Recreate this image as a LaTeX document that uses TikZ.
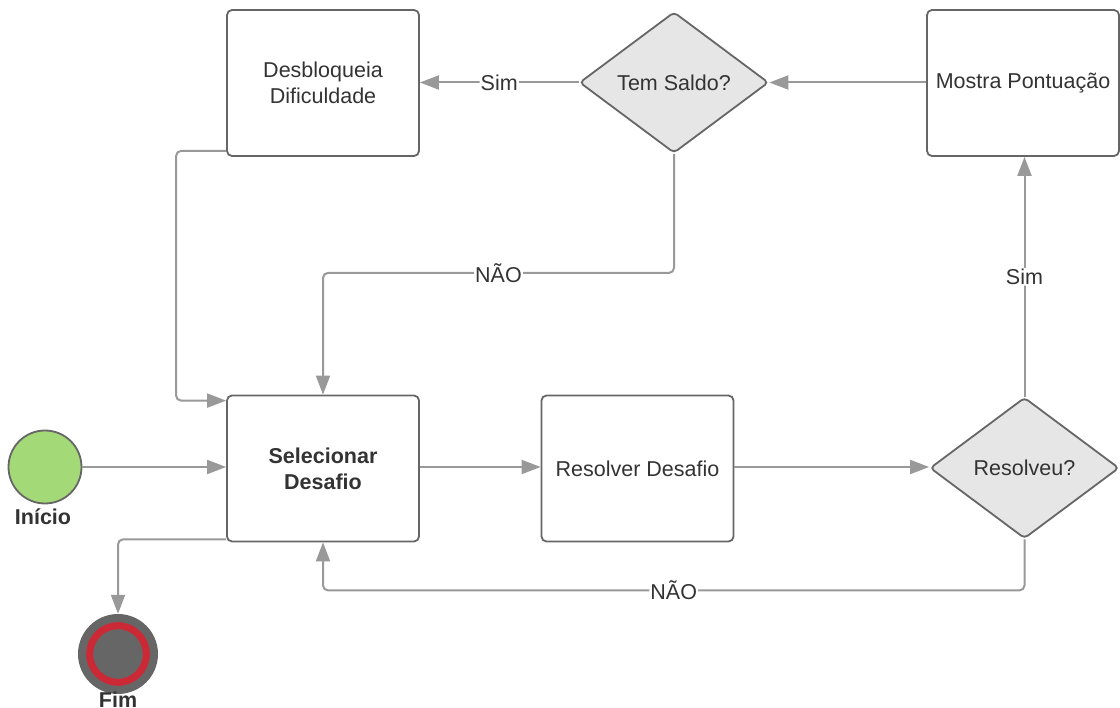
\documentclass[tikz,border=0pt]{standalone}
\usepackage{fontspec}
\setmainfont{Liberation Sans}
\usetikzlibrary{arrows.meta,shapes.geometric}
\definecolor{bordc}{HTML}{666666}
\definecolor{linec}{HTML}{999999}
\definecolor{txtc}{HTML}{333333}
\definecolor{diafill}{HTML}{E6E6E6}
\definecolor{startg}{HTML}{A3D977}
\definecolor{endred}{HTML}{CC2936}
\begin{document}
\begin{tikzpicture}[x=1pt,y=-1pt,
  every node/.style={font=\fontsize{21.5}{26}\selectfont, text=txtc},
  box/.style={draw=bordc, line width=1.8pt, rounded corners=5pt, fill=white,
    minimum width=192pt, minimum height=146pt, inner sep=0pt, align=center},
  dia/.style={diamond, draw=bordc, line width=1.8pt, rounded corners=4pt, fill=diafill,
    minimum width=189pt, minimum height=141pt, inner sep=0pt, aspect=1.34},
  conn/.style={draw=linec, line width=2pt, rounded corners=5pt,
    -{Triangle[length=19pt,width=14pt]}},
  lbl/.style={fill=white, inner sep=1pt},
  bold/.style={font=\fontsize{21.5}{26}\selectfont\bfseries}]
\useasboundingbox (0,0) rectangle (1120,708);
\fill[white] (0,0) rectangle (1120,708);
% nodes
\node[box] (desb) at (323,83) {Desbloqueia\\Dificuldade};
\node[dia] (tem) at (674,82.5) {Tem Saldo?};
\node[box] (mos) at (1023,83) {Mostra Pontuação};
\node[box, bold] (sel) at (323,468.5) {Selecionar\\Desafio};
\node[box] (resol) at (637.5,468.5) {Resolver Desafio};
\node[dia] (res) at (1024.5,468) {Resolveu?};
\node[circle, draw=bordc, line width=1.8pt, fill=startg, minimum size=73pt, inner sep=0pt] (ini) at (45,467) {};
\node[bold, inner sep=0pt] (inilbl) at (43,517) {Início};
\node[circle, fill=bordc, minimum size=80pt, inner sep=0pt] (fim) at (118,654) {};
\draw[endred, line width=7pt] (fim.center) circle (28.3pt);
\node[bold, inner sep=0pt] (fimlbl) at (118,700) {Fim};
% connectors
\draw[conn] (ini.east) -- (sel.west |- ini.east);
\draw[conn] ([yshift=3pt]sel.south west) -| (fim.north);
\draw[conn] ([yshift=6pt]desb.south west) -- ++(-50,0) |- ([yshift=-6pt]sel.north west);
\draw[conn] (tem.west) -- node[lbl]{Sim} (desb.east |- tem.west);
\draw[conn] (mos.west |- tem.east) -- (tem.east);
\draw[conn] (tem.south) -- ++(0,119) coordinate (c1) -- node[lbl]{NÃO} (c1 -| sel.north) -- (sel.north);
\draw[conn] (sel.east |- ini.east) -- (resol.west |- ini.east);
\draw[conn] (resol.east |- ini.east) -- (res.west |- ini.east);
\draw[conn] (res.north) -- node[lbl]{Sim} (mos.south -| res.north);
\draw[conn] (res.south) -- ++(0,51) coordinate (c2) -- node[lbl]{NÃO} (c2 -| sel.south) -- (sel.south);
\end{tikzpicture}
\end{document}
